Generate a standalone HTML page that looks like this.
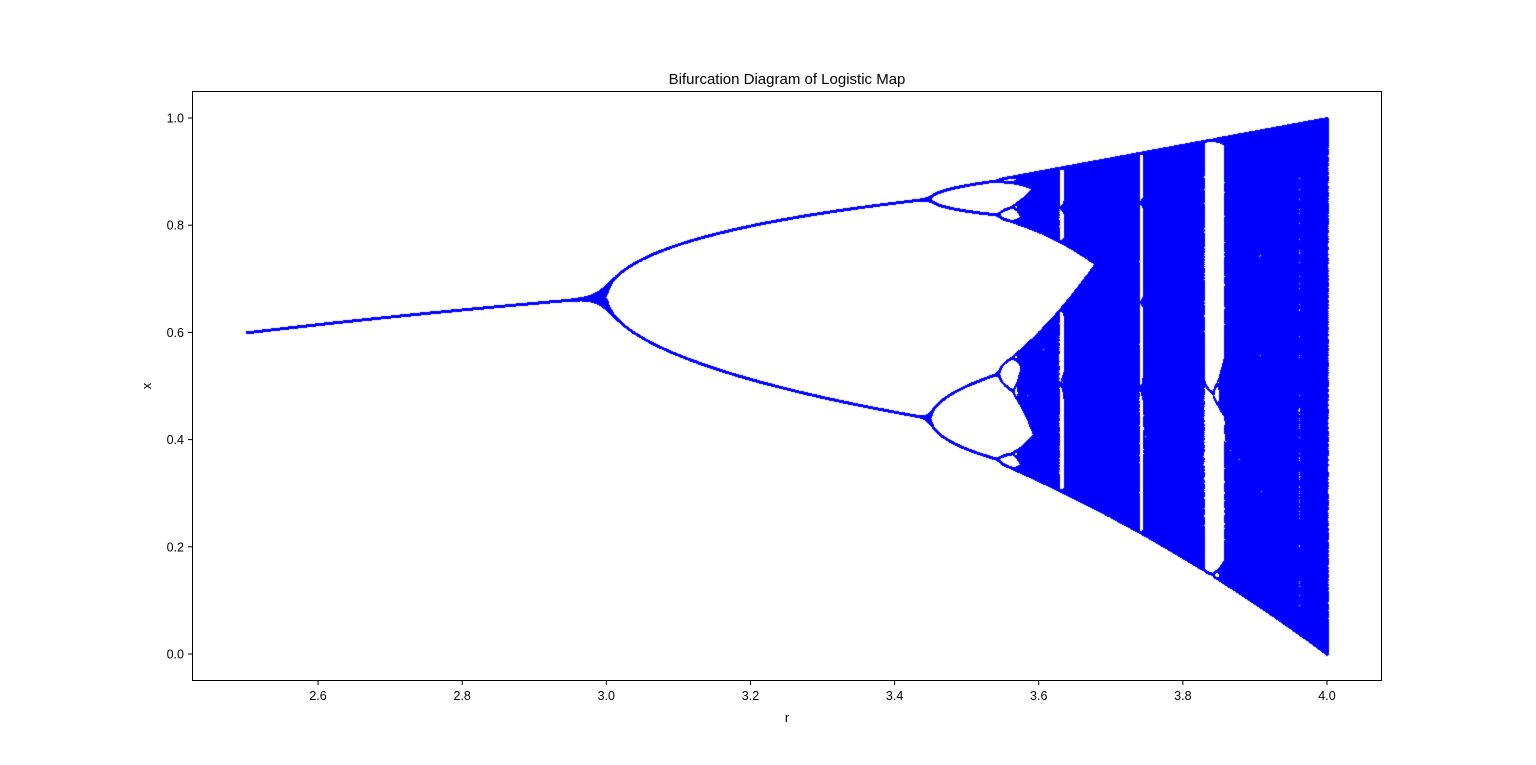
<!DOCTYPE html>
<html><head><meta charset="utf-8"><style>
html,body{margin:0;padding:0;background:#fff;width:1536px;height:765px;overflow:hidden;font-family:"Liberation Sans","DejaVu Sans",sans-serif}
#wrap{position:relative;width:1536px;height:765px}
canvas,svg{position:absolute;left:0;top:0}
</style></head><body>
<div id="wrap">
<canvas id="cv" width="1536" height="765"></canvas>
<svg id="sv" width="1536" height="765"></svg>
</div>
<script>
// model parameters (data)
const rRange = [2.5, 4.0];
const xTicks = [2.6, 2.8, 3.0, 3.2, 3.4, 3.6, 3.8, 4.0];
const yTicks = [0.0, 0.2, 0.4, 0.6, 0.8, 1.0];
const rSteps = [3500];
const transientIters = [100];
const plotIters = [800];
const x0 = [0.5];

const L=192,R=1382,T=91,B=681;
function sx(r){return 246+(r-2.5)*(1327-246)/1.5;}
function sy(v){return 654-v*(654-118);}

const cv=document.getElementById('cv');
const ctx=cv.getContext('2d');
const W=1536,H=765;
const img=ctx.createImageData(W,H);
const d=img.data;
function plot(px,py){
  if(px<0||py<0||px>=W||py>=H)return;
  const o=(py*W+px)*4;d[o]=0;d[o+1]=0;d[o+2]=255;d[o+3]=255;
}
const n=rSteps[0];
for(let i=0;i<n;i++){
  const r=rRange[0]+(rRange[1]-rRange[0])*i/(n-1);
  let x=x0[0];
  for(let k=0;k<transientIters[0];k++) x=r*x*(1-x);
  const px=Math.round(sx(r));
  for(let k=0;k<plotIters[0];k++){
    x=r*x*(1-x);
    const yy=sy(x);
    const py=Math.round(yy);
    plot(px,py);plot(px,py-1);plot(px+1,py);plot(px,py+1);
  }
}
ctx.putImageData(img,0,0);

const NS='http://www.w3.org/2000/svg';
const sv=document.getElementById('sv');
function el(t,a,txt){const e=document.createElementNS(NS,t);for(const k in a)e.setAttribute(k,a[k]);if(txt!==undefined)e.textContent=txt;sv.appendChild(e);return e;}
const frame=el('rect',{x:L+0.5,y:T+0.5,width:R-L-1,height:B-T-1,fill:'none',stroke:'#000','stroke-width':1});


xTicks.forEach(v=>{
  const x=sx(v);
  const t=el('line',{x1:x,x2:x,y1:B,y2:B+4,stroke:'#000'});
  
  
  const l=el('text',{x:x,y:B+19,'font-size':12.5,'text-anchor':'middle'},v.toFixed(1));
  
  
});
yTicks.forEach(v=>{
  const y=sy(v);
  const t=el('line',{x1:L-4,x2:L,y1:y,y2:y,stroke:'#000'});
  
  
  const l=el('text',{x:L-8,y:y+4.5,'font-size':12.5,'text-anchor':'end'},v.toFixed(1));
  
  
});
const tt=el('text',{x:787,y:84,'font-size':15,'text-anchor':'middle'},'Bifurcation Diagram of Logistic Map');


const xl=el('text',{x:787,y:722,'font-size':13,'text-anchor':'middle'},'r');


const yl=el('text',{x:151,y:386,'font-size':13,'text-anchor':'middle',transform:'rotate(-90 151 386)'},'x');


</script>
</body></html>
